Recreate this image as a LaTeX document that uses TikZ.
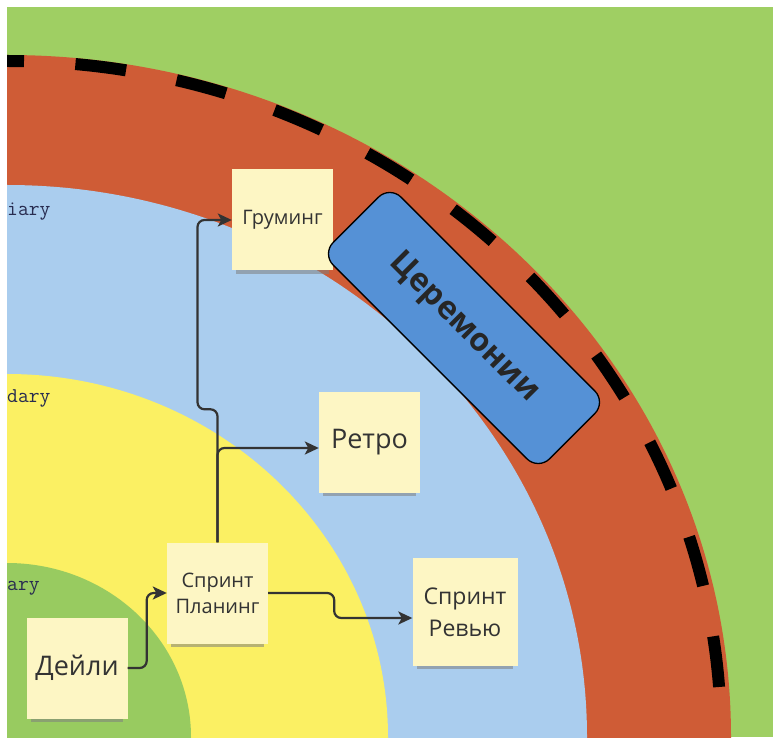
\documentclass[tikz,border=0pt]{standalone}
\usepackage{fontspec}
\setmainfont{Open Sans}
\usetikzlibrary{arrows.meta, shadows}

\definecolor{fieldgreen}{RGB}{159,207,99}
\definecolor{ringorange}{RGB}{207,92,54}
\definecolor{ringblue}{RGB}{170,205,238}
\definecolor{ringyellow}{RGB}{251,240,99}
\definecolor{coregreen}{RGB}{152,203,96}
\definecolor{stickyyellow}{RGB}{253,246,196}
\definecolor{ceremonyblue}{RGB}{85,145,214}
\definecolor{inkgray}{RGB}{51,51,51}
\definecolor{labelnavy}{RGB}{40,44,80}

\tikzset{
  sticky/.style={fill=stickyyellow, minimum width=101pt, minimum height=101pt, align=center,
    text=inkgray, inner sep=2pt,
    drop shadow={shadow xshift=0pt, shadow yshift=-8pt, shadow scale=0.92, opacity=0.55}},
  flow/.style={draw=inkgray, line width=2.2pt, rounded corners=7pt,
    -{Stealth[length=14pt, width=13pt, inset=3.5pt]}},
  ringlabel/.style={anchor=west, inner sep=0pt, text=labelnavy,
    font=\ttfamily\fontsize{21}{21}\selectfont}
}

\begin{document}
\begin{tikzpicture}[x=1pt, y=1pt]
  \useasboundingbox (0,0) rectangle (773,737);
  \fill[white] (0,0) rectangle (773,737);
  \fill[fieldgreen] (7,0) rectangle (773,730);

  % rings round the corner
  \begin{scope}
    \clip (7,0) rectangle (773,730);
    \fill[ringorange] (7,0) ellipse [x radius=724pt, y radius=682pt];
    \draw[line width=12pt, dash pattern=on 51pt off 51.5pt, dash phase=34pt]
      (7,676) arc [start angle=90, end angle=0, x radius=714pt, y radius=676pt];
    \fill[ringblue] (7,0) ellipse [x radius=580pt, y radius=552pt];
    \fill[ringyellow] (7,0) ellipse [x radius=381pt, y radius=363pt];
    \fill[coregreen] (7,0) ellipse [x radius=184pt, y radius=174pt];
  \end{scope}

  \node[ringlabel] (tertlabel) at (7,525) {iary};
  \node[ringlabel] (seclabel) at (7,339) {dary};
  \node[ringlabel] (primlabel) at (7,149) {ary};

  % stickies
  \node[sticky, font=\fontsize{20}{22}\selectfont] (groom) at (282.5,517) {Груминг};
  \node[sticky, font=\fontsize{27}{30}\selectfont] (retro) at (369.5,295) {Ретро};
  \node[sticky, font=\fontsize{20}{26}\selectfont] (plan) at (217.5,144) {Спринт\\Планинг};
  \node[sticky, font=\fontsize{27}{30}\selectfont] (daily) at (77,69) {Дейли};
  \node[sticky, minimum width=105pt, minimum height=108pt, font=\fontsize{23}{32}\selectfont]
    (review) at (465,125) {Спринт\\Ревью};

  \node[draw=black, line width=1.3pt, fill=ceremonyblue, rounded corners=16pt,
    minimum width=306pt, minimum height=96pt, rotate=-45, text=black!85,
    font=\bfseries\fontsize{32}{32}\selectfont] (ceremonies) at (464,409) {Церемонии};

  \draw[flow] (daily.east) -- ++(19,0) |- (plan.west);
  \draw[flow] (plan.north) -- ++(0,133) -- ++(-20,0) |- (groom.west);
  \draw[flow] (plan.north) |- ([yshift=-6pt]retro.west);
  \draw[flow] (plan.east) -- ++(66,0) |- ([yshift=-6pt]review.west);
\end{tikzpicture}
\end{document}
